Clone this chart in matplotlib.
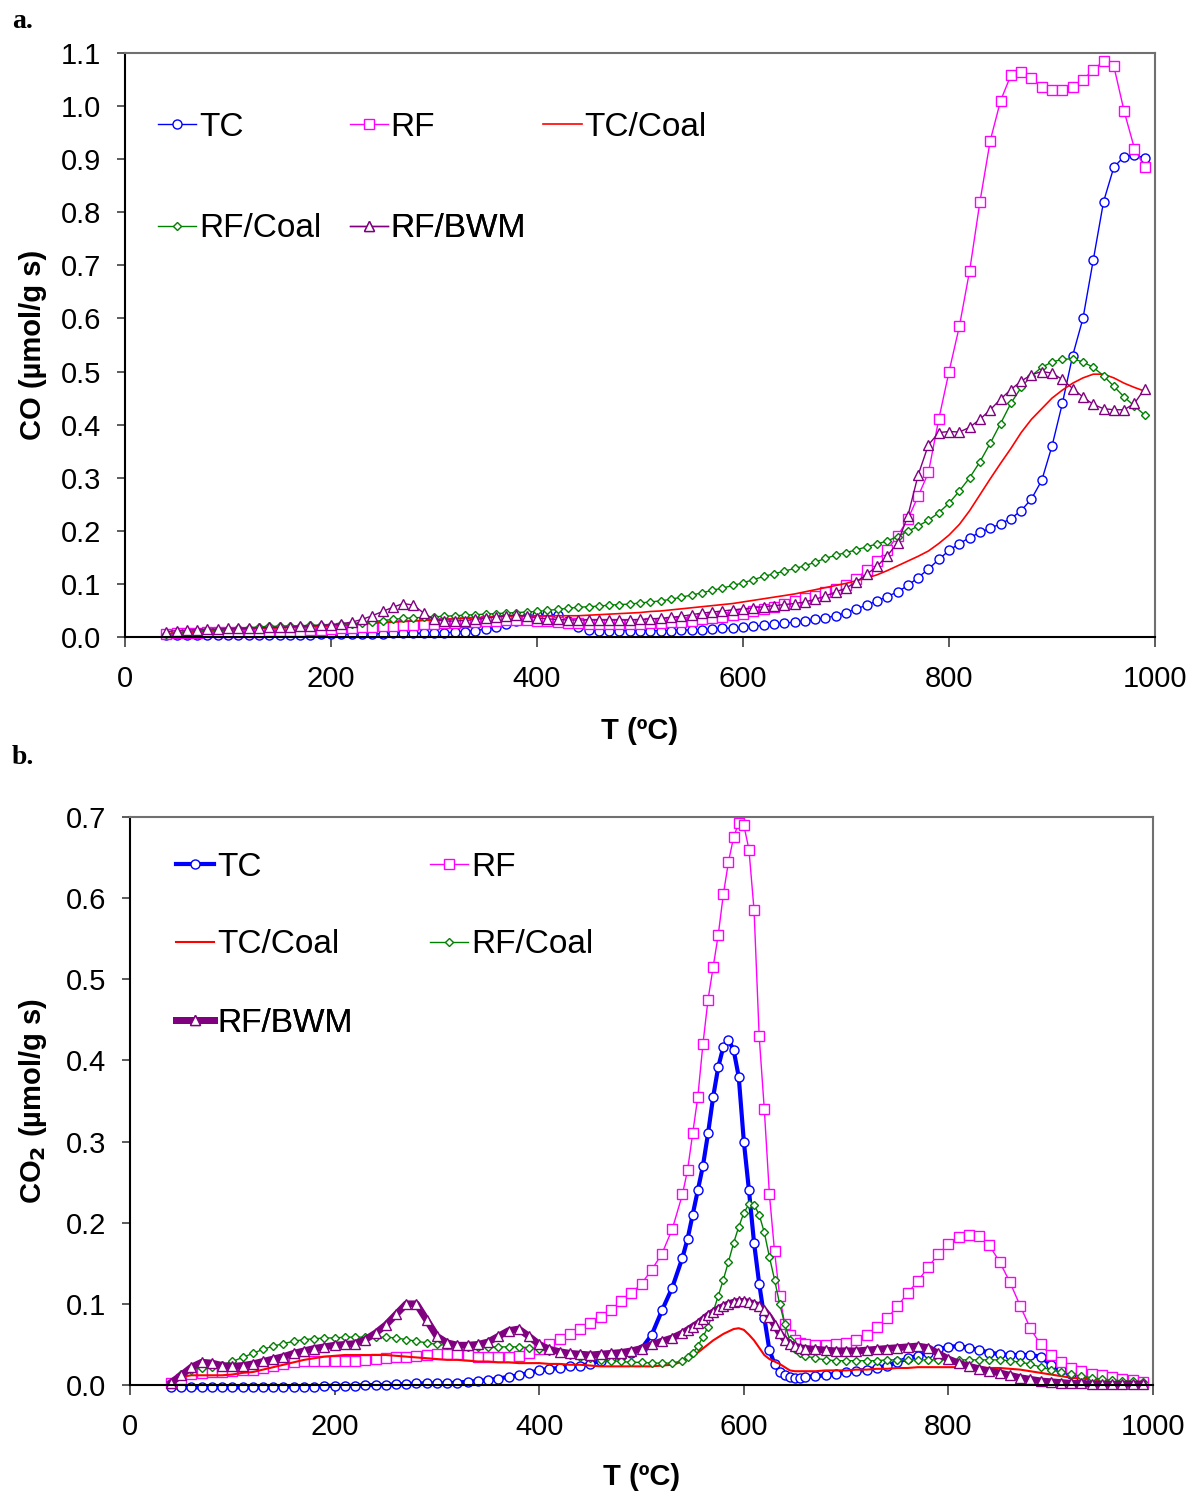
import matplotlib
matplotlib.use("Agg")
import matplotlib.pyplot as plt
import numpy as np

plt.rcParams["font.family"] = ["Liberation Sans", "DejaVu Sans"]

# ---------------------------------------------------------------- panel a: CO
# temperature grid, 10 degC steps from 40 to 990
T_A = np.arange(40, 1000, 10)

TC_A = [
    0.004, 0.003, 0.003, 0.003, 0.003, 0.003, 0.003, 0.003, 0.003, 0.004,
    0.004, 0.004, 0.004, 0.004, 0.004, 0.005, 0.005, 0.005, 0.005, 0.006,
    0.006, 0.006, 0.007, 0.007, 0.007, 0.007, 0.007, 0.008, 0.009, 0.010,
    0.012, 0.015, 0.019, 0.025, 0.031, 0.037, 0.041, 0.043, 0.041, 0.030,
    0.018, 0.013, 0.012, 0.012, 0.012, 0.012, 0.012, 0.012, 0.012, 0.012,
    0.013, 0.013, 0.014, 0.015, 0.016, 0.017, 0.018, 0.020, 0.022, 0.024,
    0.026, 0.028, 0.030, 0.033, 0.036, 0.040, 0.046, 0.053, 0.060, 0.068,
    0.076, 0.085, 0.097, 0.112, 0.128, 0.146, 0.163, 0.176, 0.187, 0.197,
    0.205, 0.213, 0.223, 0.238, 0.260, 0.295, 0.360, 0.440, 0.530, 0.600,
    0.710, 0.820, 0.885, 0.905, 0.908, 0.902,
]
RF_A = [
    0.006, 0.007, 0.008, 0.008, 0.009, 0.009, 0.010, 0.010, 0.010, 0.010,
    0.011, 0.011, 0.012, 0.012, 0.013, 0.014, 0.015, 0.016, 0.017, 0.018,
    0.019, 0.020, 0.021, 0.022, 0.023, 0.024, 0.025, 0.026, 0.027, 0.028,
    0.029, 0.030, 0.031, 0.032, 0.032, 0.032, 0.031, 0.030, 0.029, 0.027,
    0.026, 0.025, 0.025, 0.025, 0.025, 0.025, 0.025, 0.026, 0.027, 0.028,
    0.029, 0.031, 0.033, 0.035, 0.038, 0.041, 0.044, 0.048, 0.052, 0.057,
    0.062, 0.067, 0.073, 0.078, 0.084, 0.090, 0.098, 0.110, 0.126, 0.143,
    0.164, 0.190, 0.222, 0.265, 0.310, 0.410, 0.500, 0.585, 0.690, 0.820,
    0.935, 1.010, 1.058, 1.064, 1.052, 1.036, 1.030, 1.030, 1.036, 1.050,
    1.068, 1.085, 1.075, 0.990, 0.920, 0.885,
]
TC_COAL_A = [
    0.006, 0.008, 0.009, 0.010, 0.011, 0.012, 0.013, 0.014, 0.015, 0.016,
    0.017, 0.017, 0.018, 0.018, 0.019, 0.020, 0.021, 0.022, 0.023, 0.024,
    0.026, 0.027, 0.028, 0.029, 0.030, 0.031, 0.032, 0.033, 0.034, 0.035,
    0.036, 0.037, 0.038, 0.039, 0.040, 0.040, 0.040, 0.040, 0.040, 0.040,
    0.040, 0.041, 0.042, 0.043, 0.044, 0.045, 0.046, 0.048, 0.049, 0.051,
    0.053, 0.055, 0.057, 0.059, 0.061, 0.063, 0.066, 0.069, 0.072, 0.075,
    0.078, 0.081, 0.085, 0.089, 0.093, 0.097, 0.101, 0.106, 0.111, 0.117,
    0.125, 0.134, 0.143, 0.152, 0.162, 0.176, 0.192, 0.212, 0.238, 0.268,
    0.298, 0.327, 0.355, 0.385, 0.410, 0.430, 0.450, 0.465, 0.478, 0.488,
    0.495, 0.495, 0.488, 0.478, 0.470, 0.463,
]
RF_COAL_A = [
    0.005, 0.008, 0.010, 0.012, 0.013, 0.014, 0.015, 0.016, 0.017, 0.019,
    0.020, 0.020, 0.021, 0.021, 0.022, 0.022, 0.023, 0.024, 0.025, 0.027,
    0.029, 0.031, 0.033, 0.035, 0.036, 0.037, 0.038, 0.039, 0.040, 0.041,
    0.042, 0.043, 0.044, 0.045, 0.046, 0.047, 0.048, 0.050, 0.052, 0.054,
    0.056, 0.057, 0.058, 0.060, 0.061, 0.062, 0.064, 0.066, 0.068, 0.071,
    0.075, 0.079, 0.083, 0.088, 0.092, 0.097, 0.102, 0.108, 0.114, 0.119,
    0.124, 0.129, 0.134, 0.141, 0.148, 0.154, 0.159, 0.164, 0.170, 0.175,
    0.181, 0.189, 0.199, 0.209, 0.220, 0.234, 0.252, 0.275, 0.300, 0.330,
    0.365, 0.402, 0.440, 0.470, 0.492, 0.508, 0.518, 0.523, 0.524, 0.518,
    0.508, 0.492, 0.472, 0.452, 0.435, 0.418,
]
RF_BWM_A = [
    0.010, 0.012, 0.013, 0.014, 0.015, 0.015, 0.016, 0.016, 0.017, 0.017,
    0.018, 0.018, 0.019, 0.020, 0.021, 0.022, 0.023, 0.025, 0.028, 0.033,
    0.040, 0.048, 0.056, 0.063, 0.060, 0.045, 0.033, 0.030, 0.030, 0.031,
    0.033, 0.035, 0.038, 0.040, 0.041, 0.039, 0.036, 0.034, 0.033, 0.032,
    0.032, 0.032, 0.032, 0.032, 0.032, 0.032, 0.033, 0.034, 0.035, 0.037,
    0.039, 0.042, 0.045, 0.047, 0.049, 0.051, 0.053, 0.055, 0.057, 0.059,
    0.061, 0.063, 0.066, 0.071, 0.077, 0.085, 0.092, 0.104, 0.118, 0.133,
    0.153, 0.177, 0.228, 0.305, 0.362, 0.385, 0.387, 0.386, 0.395, 0.410,
    0.428, 0.448, 0.466, 0.482, 0.494, 0.500, 0.497, 0.485, 0.468, 0.452,
    0.438, 0.430, 0.428, 0.428, 0.440, 0.468,
]

# --------------------------------------------------------------- panel b: CO2
# 10 degC steps, 5 degC around the 600 degC peaks
T_B = np.concatenate([np.arange(40, 540, 10), np.arange(540, 665, 5),
                      np.arange(670, 1000, 10)])

TC_B = [
    -0.003, -0.003, -0.003, -0.003, -0.003, -0.003, -0.003, -0.003, -0.003, -0.003,
    -0.003, -0.002, -0.002, -0.002, -0.002, -0.001, -0.001, -0.001, -0.001, 0.000,
    0.000, 0.000, 0.001, 0.001, 0.002, 0.002, 0.002, 0.002, 0.003, 0.004,
    0.005, 0.006, 0.008, 0.010, 0.012, 0.015, 0.018, 0.020, 0.021, 0.023,
    0.024, 0.026, 0.030, 0.033, 0.036, 0.039, 0.045, 0.062, 0.092, 0.120,
    # 540 .. 660 every 5
    0.157, 0.180, 0.210, 0.240, 0.270, 0.310, 0.355, 0.392, 0.417, 0.425,
    0.413, 0.380, 0.300, 0.240, 0.175, 0.125, 0.083, 0.043, 0.026, 0.016,
    0.012, 0.010, 0.009, 0.009, 0.010,
    # 670 .. 990
    0.011, 0.012, 0.014, 0.016, 0.017, 0.019, 0.021, 0.024, 0.028, 0.033,
    0.036, 0.040, 0.044, 0.047, 0.048, 0.046, 0.043, 0.040, 0.038, 0.037,
    0.037, 0.037, 0.035, 0.025, 0.018, 0.013, 0.010, 0.008, 0.006, 0.005,
    0.004, 0.003, 0.002,
]
RF_B = [
    0.002, 0.008, 0.013, 0.015, 0.016, 0.016, 0.017, 0.018, 0.019, 0.021,
    0.024, 0.026, 0.028, 0.029, 0.029, 0.029, 0.030, 0.030, 0.030, 0.031,
    0.032, 0.033, 0.034, 0.035, 0.036, 0.037, 0.038, 0.038, 0.038, 0.037,
    0.035, 0.034, 0.034, 0.035, 0.036, 0.040, 0.045, 0.051, 0.057, 0.063,
    0.069, 0.076, 0.084, 0.093, 0.103, 0.113, 0.125, 0.142, 0.162, 0.192,
    0.235, 0.265, 0.310, 0.355, 0.420, 0.475, 0.515, 0.555, 0.605, 0.645,
    0.675, 0.693, 0.690, 0.660, 0.585, 0.430, 0.340, 0.235, 0.165, 0.110,
    0.075, 0.062, 0.055, 0.052, 0.050,
    0.049, 0.049, 0.050, 0.052, 0.056, 0.062, 0.071, 0.082, 0.097, 0.113,
    0.128, 0.145, 0.161, 0.174, 0.182, 0.185, 0.184, 0.172, 0.152, 0.127,
    0.098, 0.070, 0.050, 0.037, 0.028, 0.021, 0.017, 0.014, 0.012, 0.010,
    0.008, 0.006, 0.004,
]
TC_COAL_B = [
    0.002, 0.010, 0.012, 0.012, 0.012, 0.012, 0.013, 0.015, 0.016, 0.019,
    0.022, 0.025, 0.028, 0.031, 0.033, 0.035, 0.036, 0.037, 0.037, 0.037,
    0.037, 0.037, 0.036, 0.035, 0.034, 0.033, 0.032, 0.031, 0.031, 0.030,
    0.029, 0.029, 0.028, 0.028, 0.027, 0.027, 0.027, 0.026, 0.026, 0.025,
    0.025, 0.024, 0.023, 0.023, 0.023, 0.023, 0.023, 0.023, 0.024, 0.025,
    0.029, 0.033, 0.036, 0.040, 0.045, 0.050, 0.055, 0.059, 0.063, 0.066,
    0.069, 0.070, 0.068, 0.062, 0.055, 0.046, 0.037, 0.032, 0.029, 0.026,
    0.022, 0.018, 0.017, 0.017, 0.017,
    0.017, 0.018, 0.018, 0.018, 0.019, 0.019, 0.020, 0.020, 0.021, 0.021,
    0.022, 0.022, 0.022, 0.022, 0.022, 0.022, 0.022, 0.021, 0.021, 0.020,
    0.019, 0.017, 0.015, 0.013, 0.011, 0.009, 0.008, 0.007, 0.006, 0.005,
    0.005, 0.004, 0.004,
]
RF_COAL_B = [
    0.003, 0.014, 0.019, 0.021, 0.022, 0.025, 0.029, 0.034, 0.039, 0.044,
    0.048, 0.051, 0.054, 0.056, 0.057, 0.058, 0.058, 0.059, 0.059, 0.059,
    0.059, 0.059, 0.058, 0.056, 0.054, 0.052, 0.050, 0.049, 0.048, 0.047,
    0.047, 0.047, 0.047, 0.047, 0.047, 0.046, 0.044, 0.042, 0.040, 0.037,
    0.035, 0.033, 0.031, 0.030, 0.029, 0.028, 0.028, 0.027, 0.027, 0.027,
    0.030, 0.034, 0.039, 0.048, 0.059, 0.072, 0.090, 0.110, 0.130, 0.152,
    0.175, 0.195, 0.212, 0.223, 0.222, 0.210, 0.188, 0.158, 0.130, 0.100,
    0.075, 0.055, 0.045, 0.040, 0.036,
    0.033, 0.031, 0.030, 0.030, 0.030, 0.030, 0.030, 0.031, 0.031, 0.031,
    0.031, 0.031, 0.031, 0.031, 0.031, 0.031, 0.031, 0.031, 0.031, 0.030,
    0.028, 0.026, 0.022, 0.019, 0.016, 0.013, 0.011, 0.009, 0.007, 0.006,
    0.005, 0.005, 0.004,
]
RF_BWM_B = [
    0.003, 0.012, 0.022, 0.028, 0.027, 0.024, 0.023, 0.024, 0.026, 0.029,
    0.032, 0.035, 0.039, 0.042, 0.045, 0.047, 0.049, 0.050, 0.051, 0.056,
    0.064, 0.074, 0.087, 0.100, 0.100, 0.080, 0.060, 0.052, 0.049, 0.049,
    0.050, 0.053, 0.060, 0.067, 0.069, 0.060, 0.050, 0.044, 0.041, 0.039,
    0.038, 0.037, 0.038, 0.039, 0.040, 0.042, 0.045, 0.050, 0.054, 0.058,
    0.064, 0.068, 0.072, 0.076, 0.081, 0.086, 0.090, 0.094, 0.097, 0.100,
    0.102, 0.103, 0.103, 0.102, 0.100, 0.097, 0.092, 0.084, 0.074, 0.064,
    0.056, 0.051, 0.048, 0.046, 0.045,
    0.044, 0.043, 0.042, 0.042, 0.042, 0.043, 0.044, 0.045, 0.046, 0.047,
    0.048, 0.046, 0.039, 0.032, 0.027, 0.023, 0.020, 0.017, 0.015, 0.012,
    0.009, 0.007, 0.005, 0.004, 0.003, 0.002, 0.002, 0.001, 0.001, 0.001,
    0.001, 0.001, 0.001,
]

NAMES = ["TC", "RF", "TC/Coal", "RF/Coal", "RF/BWM"]
COLORS = {"TC": "#0000FF", "RF": "#FF00FF", "TC/Coal": "#FF0000",
          "RF/Coal": "#008000", "RF/BWM": "#800080"}
MARKERS = {"TC": ("o", 6.5), "RF": ("s", 7.5), "TC/Coal": ("", 0),
           "RF/Coal": ("D", 4.5), "RF/BWM": ("^", 6.5)}
LW_A = {"TC": 1.0, "RF": 1.0, "TC/Coal": 1.2, "RF/Coal": 1.0, "RF/BWM": 1.0}
LW_B = {"TC": 3.0, "RF": 1.0, "TC/Coal": 1.5, "RF/Coal": 1.0, "RF/BWM": 5.0}

# legend entry anchors (axes fraction, left edge of handle / vertical centre)
LEG_A = {"TC": (0.032, 0.873), "RF": (0.218, 0.873), "TC/Coal": (0.406, 0.873),
         "RF/Coal": (0.032, 0.699), "RF/BWM": (0.218, 0.699)}
LEG_B = {"TC": (0.045, 0.912), "RF": (0.293, 0.912),
         "TC/Coal": (0.045, 0.775), "RF/Coal": (0.293, 0.775),
         "RF/BWM": (0.045, 0.637)}

TICK_FS = 21
LEG_FS = 24
LABEL_FS = 21


def draw_panel(ax, t, series, lws, ymax, ylabel, leg_pos, label_x):
    lines = {}
    for name in NAMES:
        mk, ms = MARKERS[name]
        ln, = ax.plot(t, series[name], color=COLORS[name], lw=lws[name],
                      marker=mk, ms=ms, mfc="white", mec=COLORS[name],
                      mew=1.0, clip_on=False, label=name)
        lines[name] = ln

    ax.set_xlim(0, 1000)
    ax.set_ylim(0, ymax)
    ax.set_xticks(range(0, 1001, 200))
    ax.set_yticks(np.arange(0, ymax + 0.001, 0.1))
    ax.yaxis.set_major_formatter(plt.FormatStrFormatter("%.1f"))
    ax.tick_params(axis="x", direction="out", length=7, width=1.2,
                   pad=13, labelsize=TICK_FS, color="#404040")
    ax.tick_params(axis="y", direction="out", length=6, width=1.2,
                   pad=11, labelsize=TICK_FS, color="#404040")
    for side in ("left", "bottom"):
        ax.spines[side].set_color("black")
        ax.spines[side].set_linewidth(1.5)
    for side in ("top", "right"):
        ax.spines[side].set_color("#707070")
        ax.spines[side].set_linewidth(1.5)

    ax.text(0.5, -0.137, "T (ºC)", transform=ax.transAxes, ha="center",
            va="top", fontsize=LABEL_FS, fontweight="bold")
    ax.text(label_x, 0.5, ylabel, transform=ax.transAxes, ha="center",
            va="center", rotation=90, fontsize=LABEL_FS, fontweight="bold")

    for name in NAMES:
        lx, ly = leg_pos[name]
        leg = ax.legend(handles=[lines[name]], loc="center left",
                        bbox_to_anchor=(lx, ly), frameon=False,
                        fontsize=LEG_FS, handlelength=1.15,
                        handletextpad=0.08, borderpad=0, borderaxespad=0,
                        numpoints=1)
        ax.add_artist(leg)


fig = plt.figure(figsize=(11.93, 14.97), dpi=100)

ax_a = fig.add_axes([0.1048, 0.5745, 0.8634, 0.3901])
draw_panel(ax_a, T_A,
           {"TC": TC_A, "RF": RF_A, "TC/Coal": TC_COAL_A,
            "RF/Coal": RF_COAL_A, "RF/BWM": RF_BWM_A},
           LW_A, 1.1, "CO (µmol/g s)", LEG_A, -0.089)

ax_b = fig.add_axes([0.1090, 0.0748, 0.8575, 0.3794])
draw_panel(ax_b, T_B,
           {"TC": TC_B, "RF": RF_B, "TC/Coal": TC_COAL_B,
            "RF/Coal": RF_COAL_B, "RF/BWM": RF_BWM_B},
           LW_B, 0.7, "CO$_\\mathbf{2}$ (µmol/g s)", LEG_B, -0.095)

for lab, y in (("a.", 1 - 21 / 1497), ("b.", 1 - 758 / 1497)):
    fig.text(0.010, y, lab, ha="left", va="center", fontsize=20,
             fontweight="bold", family=["Liberation Serif", "DejaVu Serif"])

fig.savefig("out.png", dpi=100)
